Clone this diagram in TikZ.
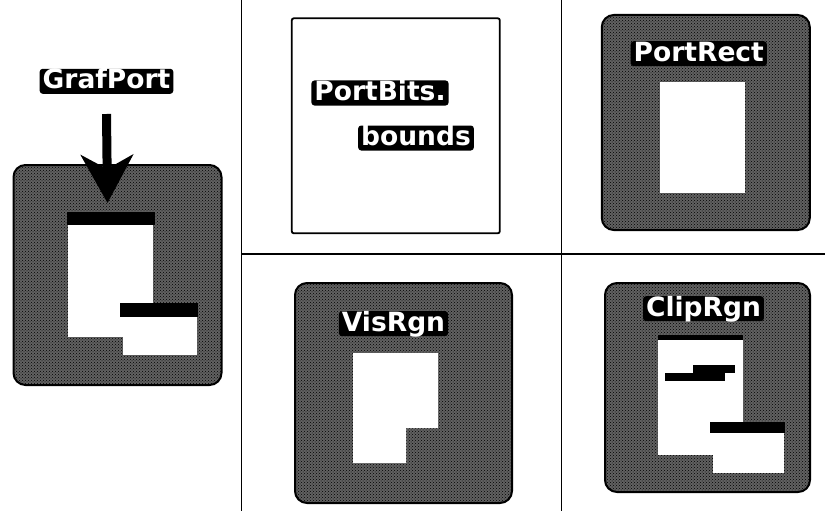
\documentclass[tikz,border=0pt]{standalone}
\usepackage{fontspec}
\setsansfont{DejaVu Sans}
\usepackage{tikz}
\usetikzlibrary{positioning, arrows.meta, patterns}

\begin{document}
\begin{tikzpicture}[x=1pt, y=-1pt,
  panel/.style={
    rectangle, draw=black, line width=2pt,
    preaction={fill=black!62}, pattern=crosshatch dots, pattern color=black,
    rounded corners=12pt, inner sep=0pt
  },
  frame/.style={
    rectangle, draw=black, line width=1.8pt, fill=white,
    rounded corners=2pt, inner sep=0pt
  },
  pane/.style={rectangle, fill=white, inner sep=0pt},
  bar/.style={rectangle, fill=black, inner sep=0pt},
  tag/.style={
    rectangle, fill=black, text=white, rounded corners=3pt,
    inner xsep=3pt, inner ysep=1pt, text height=19pt, text depth=4pt,
    font=\sffamily\bfseries\fontsize{26.5}{28}\selectfont
  },
  rule/.style={line width=1.6pt},
  bigarr/.style={-{Stealth[length=48pt, width=52pt, inset=14pt]}, line width=9pt},
]
\useasboundingbox (0,0) rectangle (825,511);

% Grid
\draw[rule] (241.5,0) -- (241.5,511);
\draw[rule] (561.5,0) -- (561.5,511);
\draw[rule] (241.5,254) -- (825,254);

% Panels
\node[panel, minimum width=208pt, minimum height=220pt] (grafbox) at (117.5,275) {};
\node[frame, minimum width=208pt, minimum height=215pt] (bitsbox) at (395.8,125.8) {};
\node[panel, minimum width=208pt, minimum height=215pt] (rectbox) at (705.8,122.5) {};
\node[panel, minimum width=217pt, minimum height=220pt] (visbox) at (403.5,393) {};
\node[panel, minimum width=205pt, minimum height=209pt] (clipbox) at (707.5,387.5) {};

% Labels
\node[tag, above=70pt of grafbox.north, xshift=-11pt] (graflbl) {GrafPort};
\node[tag] (bitslbl) at (380,93) {PortBits.};
\node[tag] (boundslbl) at (416,138) {bounds};
\node[tag, below=27pt of rectbox.north, xshift=-7pt] (rectlbl) {PortRect};
\node[tag, below=29pt of visbox.north, xshift=-10pt] (vislbl) {VisRgn};
\node[tag, below=14pt of clipbox.north, xshift=-4pt] (cliplbl) {ClipRgn};

% GrafPort windows
\node[pane, minimum width=85pt, minimum height=112pt] (grafwin) at (110.5,281) {};
\node[bar, minimum width=88pt, minimum height=13pt] (grafbar) at (110.8,218.3) {};
\node[bar, minimum width=78pt, minimum height=14pt] (grafsbar) at (159,310) {};
\node[pane, minimum width=74pt, minimum height=38pt] (grafswin) at (160,336) {};

% PortRect
\node[pane, minimum width=85pt, minimum height=111pt] (rectwin) at (702.5,137.5) {};

% VisRgn
\fill[white] (353,353) -- (438,353) -- (438,428) -- (406,428)
  -- (406,463) -- (353,463) -- cycle;

% ClipRgn
\node[pane, minimum width=85pt, minimum height=115pt] (clipwin) at (700.5,397.5) {};
\node[bar, minimum width=85pt, minimum height=5pt] (clipbar) at (700.5,337.5) {};
\node[bar, minimum width=60pt, minimum height=8pt] (clipcuta) at (695,377) {};
\node[bar, minimum width=42pt, minimum height=8pt] (clipcutb) at (714,369) {};
\node[bar, minimum width=75pt, minimum height=11pt] (clipsbar) at (747.5,427.5) {};
\node[pane, minimum width=71pt, minimum height=40pt] (clipswin) at (748.5,453) {};

% Pointer
\coordinate (graftip) at (107.5,203);
\draw[bigarr] ([yshift=-20pt]graflbl.south) -- (graftip);

\end{tikzpicture}
\end{document}
